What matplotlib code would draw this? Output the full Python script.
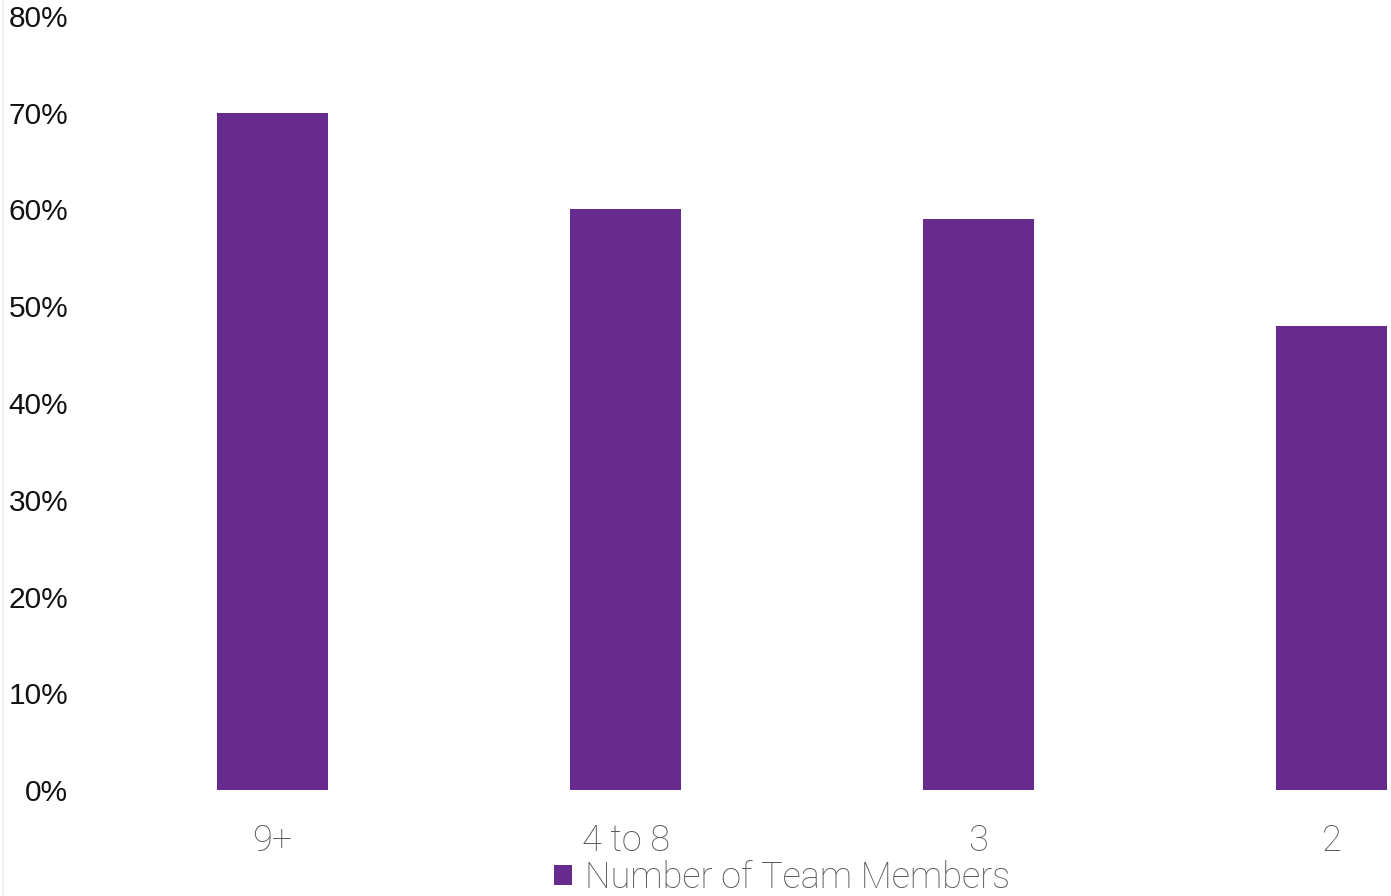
import matplotlib
matplotlib.use("Agg")
import matplotlib.pyplot as plt
from matplotlib.ticker import PercentFormatter

categories = ["9+", "4 to 8", "3", "2"]
values = [70, 60, 59, 48]
series_name = "Number of Team Members"
yticks = [0, 10, 20, 30, 40, 50, 60, 70, 80]

color = "#672A8E"
thin_font = {"family": "Roboto", "weight": "light"}

fig = plt.figure(figsize=(13.91, 8.96), dpi=100)
ax = fig.add_axes([96/1391, 1-790/896, 1-96/1391, (790-16)/896])

x = list(range(len(categories)))
bars = ax.bar(x, values, width=0.314, color=color, label=series_name)

ax.set_xlim(-0.5, (1391-272.5)/353)
ax.set_ylim(0, 80)
ax.set_yticks(yticks)
ax.yaxis.set_major_formatter(PercentFormatter(decimals=0))
ax.set_xticks(x)
ax.set_xticklabels(categories)

for s in ax.spines.values():
    s.set_visible(False)
ax.tick_params(axis="y", length=0, pad=20, labelsize=21.5, labelcolor="#111111")
ax.tick_params(axis="x", length=0, pad=24, labelsize=26, labelcolor="#595959")
for lbl in ax.get_yticklabels():
    lbl.set_fontfamily("Liberation Sans")
for lbl in ax.get_xticklabels():
    lbl.set_fontfamily(thin_font["family"])
    lbl.set_fontweight(thin_font["weight"])

fig.add_artist(plt.Line2D([3/1391, 3/1391], [0, 1], color="#f3eef8", lw=1.5))

leg = fig.legend(handles=[bars], labels=[series_name], loc="center",
                 bbox_to_anchor=(782/1391, 1-878/896), frameon=False,
                 handlelength=0.5, handleheight=0.5, handletextpad=0.35,
                 borderpad=0.2,
                 prop={"family": thin_font["family"], "weight": thin_font["weight"], "size": 26},
                 labelcolor="#595959")

fig.savefig("out.png", dpi=100)
